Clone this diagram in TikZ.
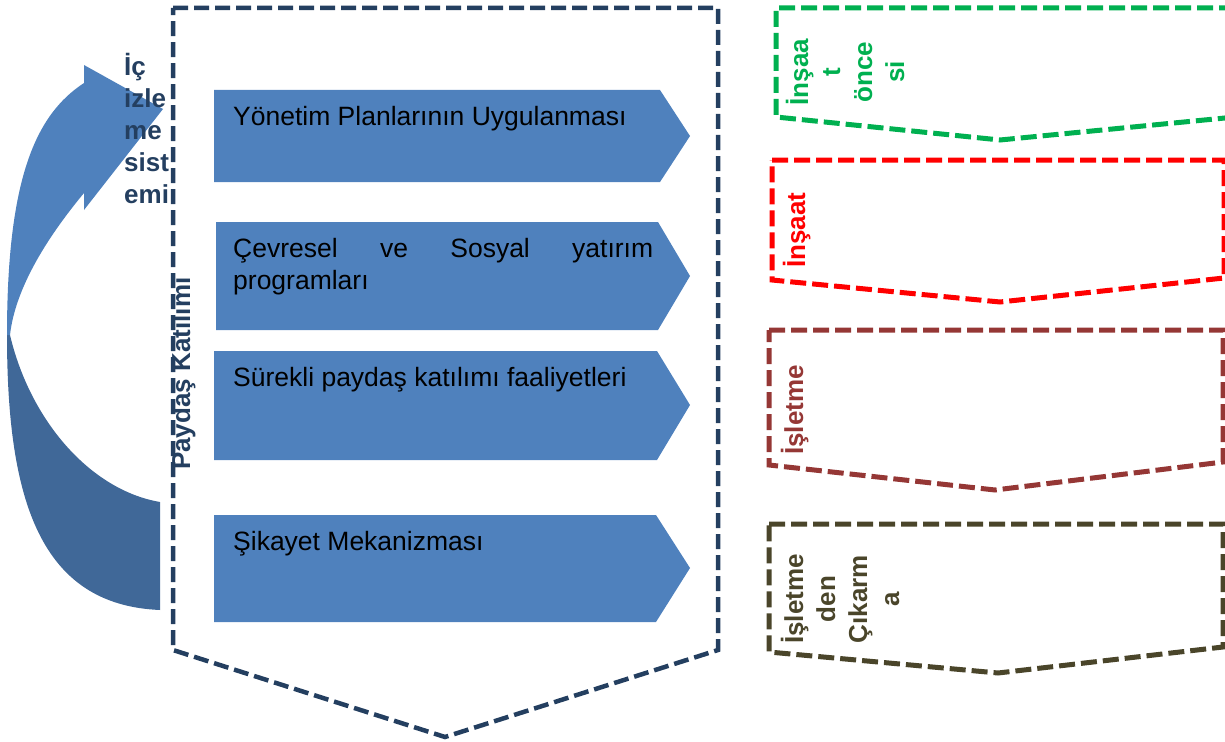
\documentclass[tikz,border=0pt]{standalone}
\usepackage{fontspec}
\setmainfont{Liberation Sans}
\usetikzlibrary{shapes,arrows}
\definecolor{boxblue}{RGB}{79,129,189}
\definecolor{arrdark}{RGB}{64,104,152}
\definecolor{navy}{RGB}{36,63,96}
\definecolor{grn}{RGB}{0,176,80}
\definecolor{brwn}{RGB}{149,55,53}
\definecolor{olv}{RGB}{74,69,42}
\tikzstyle{blk} = [fill=boxblue, draw=none]
\tikzstyle{dsh} = [dash pattern=on 16pt off 6pt, line width=5pt, line join=miter]
\tikzstyle{txt} = [anchor=base west, inner sep=0pt, font=\fontsize{26.5}{32}\selectfont]
\tikzstyle{btxt} = [anchor=base west, inner sep=0pt, font=\bfseries\fontsize{26}{32}\selectfont]
\tikzstyle{vtxt} = [anchor=base, rotate=90, inner sep=0pt, align=center, font=\bfseries\fontsize{26}{32}\selectfont]

\begin{document}
\begin{tikzpicture}[x=1pt,y=-1pt]
		\useasboundingbox (0,0) rectangle (1225,741);
		\clip (0,0) rectangle (1225,741);

		\fill[arrdark] (160,502) .. controls (90,490) and (30,420) .. (10,335) -- (7,335) .. controls (7,500) and (40,605) .. (160,610) -- cycle;
		\fill[boxblue] (7,335) .. controls (7,180) and (35,115) .. (84,83) -- (84,65) -- (163,109) -- (84,210) -- (84,193) .. controls (45,240) and (15,290) .. (10,335) -- cycle;

		\fill[blk] (214,90) -- (660,90) -- (690,136) -- (660,182) -- (214,182) -- cycle;
		\fill[blk] (216,222) -- (658,222) -- (690,276) -- (658,330) -- (216,330) -- cycle;
		\fill[blk] (214,351) -- (657,351) -- (690,405) -- (657,460) -- (214,460) -- cycle;
		\fill[blk] (214,515) -- (656,515) -- (690,568) -- (656,622) -- (214,622) -- cycle;

		\draw[dsh, navy, line width=4.5pt, dash pattern=on 15pt off 6pt] (173,8) -- (718,8) -- (718,650) -- (445,737) -- (173,650) -- cycle;
		\draw[dsh, grn] (1235,8) -- (776,8) -- (776,117) -- (1000,140) -- (1235,117);
		\draw[dsh, red] (772,160) -- (1224,160) -- (1224,278) -- (1000,302) -- (772,280) -- cycle;
		\draw[dsh, brwn] (769,330) -- (1223,330) -- (1223,462) -- (995,490) -- (769,465) -- cycle;
		\draw[dsh, olv] (769,524) -- (1223,524) -- (1223,647) -- (998,673) -- (769,652) -- cycle;

		\node[txt](1) at (233,125) {Yönetim Planlarının Uygulanması};
		\node[txt, text width=420pt, align=left](2) at (233,257) {Çevresel\hfill ve\hfill Sosyal\hfill yatırım\\programları};
		\node[txt](3) at (233,386) {Sürekli paydaş katılımı faaliyetleri};
		\node[txt](4) at (233,550) {Şikayet Mekanizması};

		\node[btxt, navy, align=left](5) at (124,203) {İç\\izle\\me\\sist\\emi};
		\node[btxt, navy, rotate=90](6) at (190,470) {Paydaş Katılımı};

		\node[vtxt, grn](7) at (904,72) {İnşaa\\t\\önce\\si};
		\node[vtxt, red](8) at (805,230) {İnşaat};
		\node[vtxt, brwn](9) at (803,410) {İşletme};
		\node[vtxt, olv](10) at (899,599) {İşletme\\den\\Çıkarm\\a};
\end{tikzpicture}
\end{document}
